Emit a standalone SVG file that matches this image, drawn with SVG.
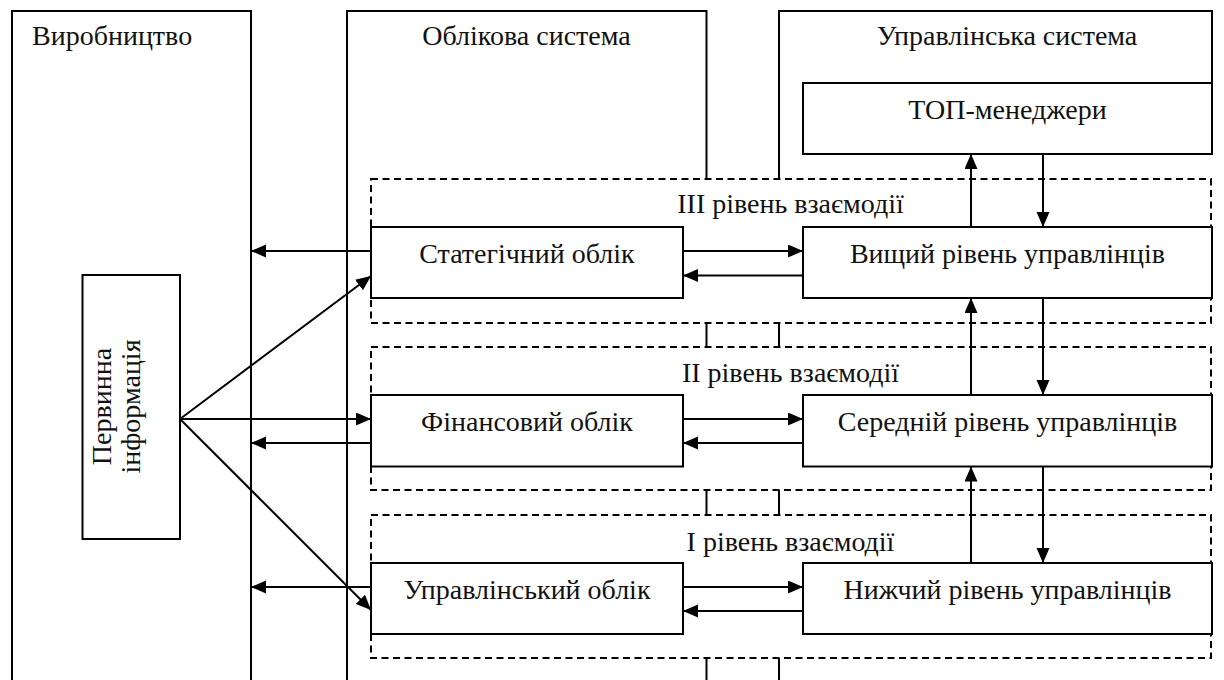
<svg xmlns="http://www.w3.org/2000/svg" width="1224" height="680" viewBox="0 0 1224 680">
  <defs>
    <marker id="arrow" markerUnits="userSpaceOnUse" markerWidth="16" markerHeight="14" refX="15" refY="6.5" orient="auto">
      <path d="M0,0 L15,6.5 L0,13 Z" fill="#000"/>
    </marker>
    <style>
      .frame { fill: none; stroke: #000; stroke-width: 2; }
      .box { fill: #fff; stroke: #000; stroke-width: 2; }
      .level { fill: #fff; stroke: #000; stroke-width: 2; stroke-dasharray: 7 4.5; }
      .link { fill: none; stroke: #000; stroke-width: 2; marker-end: url(#arrow); }
      text { font-family: "Liberation Serif", "Times New Roman", serif; font-size: 28px; fill: #111; }
      .mid { text-anchor: middle; }
    </style>
  </defs>
  <rect width="1224" height="680" fill="#fff"/>

  <!-- system columns -->
  <g id="col-production">
    <path class="frame" d="M12,690 V11 H251 V690"/>
    <text x="32" y="45">Виробництво</text>
  </g>
  <g id="col-accounting">
    <path class="frame" d="M347,690 V11 H706.5 V690"/>
    <text class="mid" x="526.5" y="45">Облікова система</text>
  </g>
  <g id="col-management">
    <path class="frame" d="M779,690 V11 H1212 V84"/>
    <text class="mid" x="1007" y="45">Управлінська система</text>
  </g>

  <!-- interaction levels -->
  <g id="level-3">
    <rect class="level" x="371" y="179" width="840" height="144"/>
    <text class="mid" x="790.5" y="213">III рівень взаємодії</text>
  </g>
  <g id="level-2">
    <rect class="level" x="371" y="347" width="840" height="143"/>
    <text class="mid" x="790.5" y="382">II рівень взаємодії</text>
  </g>
  <g id="level-1">
    <rect class="level" x="371" y="515" width="840" height="143"/>
    <text class="mid" x="790.5" y="551">І рівень взаємодії</text>
  </g>

  <!-- nodes -->
  <g id="top-managers">
    <rect class="box" x="803" y="83" width="409" height="71"/>
    <text class="mid" x="1007.5" y="119">ТОП-менеджери</text>
  </g>
  <g id="primary-info">
    <rect class="box" x="82.5" y="275" width="97.5" height="264"/>
    <g transform="translate(131,406.5) rotate(-90)">
      <text class="mid" x="0" y="-20">Первинна</text>
      <text class="mid" x="0" y="9">інформація</text>
    </g>
  </g>
  <g id="strategic-accounting">
    <rect class="box" x="371" y="227" width="312" height="71"/>
    <text class="mid" x="527" y="262.5">Статегічний облік</text>
  </g>
  <g id="financial-accounting">
    <rect class="box" x="371" y="395" width="312" height="71.5"/>
    <text class="mid" x="527" y="431">Фінансовий облік</text>
  </g>
  <g id="management-accounting">
    <rect class="box" x="371" y="563" width="312" height="71"/>
    <text class="mid" x="527" y="598.5">Управлінський облік</text>
  </g>
  <g id="upper-managers">
    <rect class="box" x="803" y="227" width="409" height="71"/>
    <text class="mid" x="1007.5" y="262.5">Вищий рівень управлінців</text>
  </g>
  <g id="middle-managers">
    <rect class="box" x="803" y="395" width="409" height="71.5"/>
    <text class="mid" x="1007.5" y="431">Середній рівень управлінців</text>
  </g>
  <g id="lower-managers">
    <rect class="box" x="803" y="563" width="409" height="71"/>
    <text class="mid" x="1007.5" y="598.5">Нижчий рівень управлінців</text>
  </g>

  <!-- connectors -->
  <g id="connectors">
    <!-- primary information fan -->
    <line class="link" x1="180" y1="419" x2="371" y2="276"/>
    <line class="link" x1="180" y1="419" x2="371" y2="419"/>
    <line class="link" x1="180" y1="419" x2="371" y2="610"/>
    <!-- accounting back to production -->
    <line class="link" x1="371" y1="251" x2="251" y2="251"/>
    <line class="link" x1="371" y1="443" x2="251" y2="443"/>
    <line class="link" x1="371" y1="587" x2="251" y2="587"/>
    <!-- accounting / management exchange -->
    <line class="link" x1="683" y1="251" x2="803" y2="251"/>
    <line class="link" x1="803" y1="275.5" x2="683" y2="275.5"/>
    <line class="link" x1="683" y1="419" x2="803" y2="419"/>
    <line class="link" x1="803" y1="443" x2="683" y2="443"/>
    <line class="link" x1="683" y1="587" x2="803" y2="587"/>
    <line class="link" x1="803" y1="611" x2="683" y2="611"/>
    <!-- management hierarchy -->
    <line class="link" x1="971" y1="227" x2="971" y2="154"/>
    <line class="link" x1="1043" y1="154" x2="1043" y2="227"/>
    <line class="link" x1="971" y1="395" x2="971" y2="298"/>
    <line class="link" x1="1043" y1="298" x2="1043" y2="395"/>
    <line class="link" x1="971" y1="563" x2="971" y2="466.5"/>
    <line class="link" x1="1043" y1="466.5" x2="1043" y2="563"/>
  </g>
</svg>
